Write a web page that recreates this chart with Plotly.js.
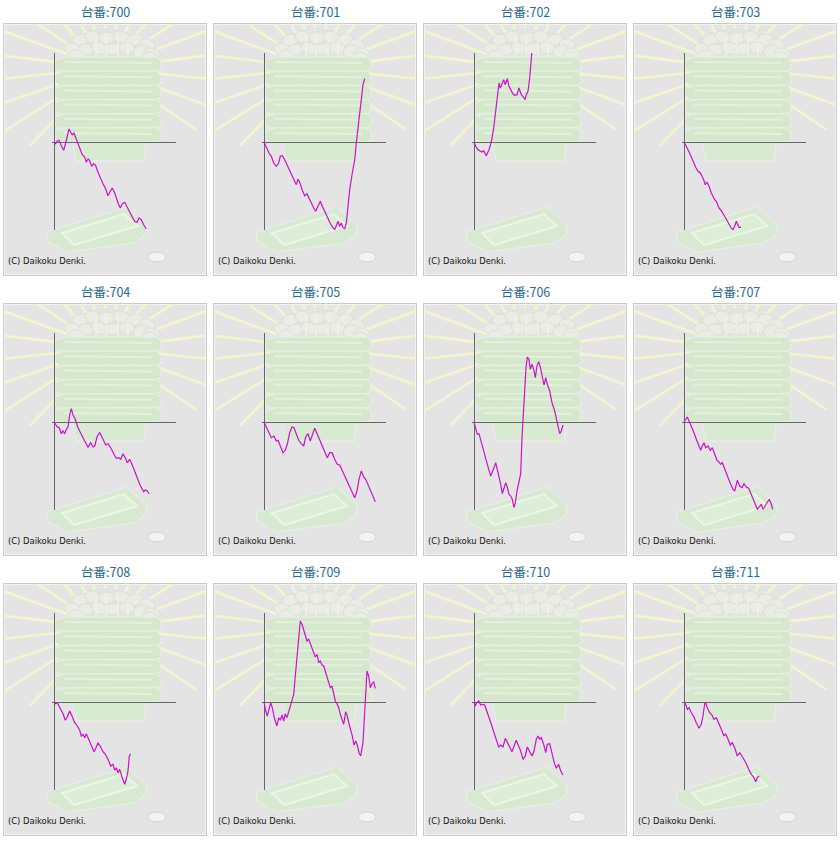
<!DOCTYPE html>
<html><head><meta charset="utf-8">
<script src="https://cdn.plot.ly/plotly-3.0.1.min.js"></script>
<style>html,body{margin:0;padding:0;background:#fff}#chart{width:840px;height:841px}</style>
</head><body><div id="chart"></div>
<script>
// Machine numbers (台番)
const machines = ['700','701','702','703','704','705','706','707','708','709','710','711'];

// x: games (x100), y: ball difference (x100)
const x700 = [0,1.7,3,5,7.3,9.7,11.7,13.3,15,16.7,18.3,20,21.7,23.3,25.7,28.3,30.7,32.3,34,35.7,37.7,39.7,41.7,44,46.3,49,51.7,54,56.3,58.3,60.7,62.3,64.3,66.3,68.3,70.7,73,75.7,78.3,80.7,83,85,87.3,89.7,92.3];
const y700 = [0,-1.7,0.7,1.7,-3.7,-8.3,-1,7.3,13,9.7,7.3,9,4,-1,-6,-12.7,-15,-20.3,-17,-18.7,-24.3,-21.7,-23.7,-30.3,-36,-41.7,-47,-53.7,-49.3,-46,-51,-56,-61.7,-66,-61.7,-60.3,-65,-71,-75,-79.3,-80.3,-76,-77.7,-82.7,-87];

const x701 = [0,1.7,3,5,7.3,9.7,12.3,14.7,16.3,18.3,20.7,23,25.7,28.3,30.7,32.3,34,35.7,38.3,40.7,43,45,47.3,49.7,51.7,54,56.3,58.3,60.7,63,65.7,68.3,70.7,72.3,74,75.7,77.3,79,80.7,82.3,84,85.7,88.3,90.7,92.3,94,95.7,97.3,99,100.7];
const y701 = [0,-4.3,-7.7,-11,-14.3,-21,-24.3,-21,-14.3,-13.7,-17.7,-23.3,-29.3,-34.3,-39.3,-42.7,-37,-40.3,-48.3,-53.7,-51.7,-56,-61.7,-66,-69.3,-64.3,-59.3,-64.3,-70.3,-74.3,-80.3,-85,-87.7,-82.7,-79.3,-84.3,-81,-85.7,-86.7,-81,-64.3,-47.7,-31,-17.7,-1,12.3,29,42.3,57.3,63.3];

const x702 = [0,1.7,4,6.3,8,9.7,11,12.3,15,17.3,19.7,21.7,23.3,25,26.3,28,29.7,31.3,33.3,35,37.3,39,40.7,43,45,47.3,49,51,52.3,54,55.7,56.7,57.7,58.3];
const y702 = [0,-4.3,-7.7,-8.7,-10,-8.7,-12,-13.7,-7.7,0,14,30.7,44,59,54,58,62.3,57.3,63.3,55.7,50.7,48,46.7,47.3,54,47.3,45.7,42.3,47.3,50.7,64,77.3,88.3,95];

const x703 = [0,1.7,4,6.3,9,11.7,14,16.3,18,19.7,21.3,23,25,27.3,30.7,32.3,35,37.3,39.7,42.3,45,47.3,49,50.7,52.3,53.7,55,57];
const y703 = [0,-2.7,-7.7,-12.7,-19.3,-25.3,-29.3,-31,-34.3,-37.7,-42.7,-40,-44.3,-51,-57.7,-59.3,-66,-68.7,-72.7,-77.7,-82.7,-86,-87.7,-84.3,-79.3,-83.3,-85.3,-85.3];

const x704 = [0,1.7,3.3,5.3,7.3,9,10.7,12.3,14,15.7,17.3,19,21.3,24,27.3,30.7,34,36.7,39,40.7,43.3,45.7,49,51.7,54,56.7,60,62.3,64.7,66.7,69,71.3,73.3,75.7,78,80.7,83.3,85.7,88,89.7,91.3,93.3,95];
const y704 = [0,-3,-5,-5.7,-11.7,-9,-11.7,-7.3,-5,7,13.3,7,2.7,-5.7,-13,-19,-25,-20.7,-25,-24,-14,-10.7,-17.3,-23,-21.7,-25.7,-32.3,-36.3,-35.7,-37.3,-31.7,-35.7,-40.7,-37.3,-42.3,-49,-57.3,-62.3,-66.7,-69.7,-68,-69,-71.7];

const x705 = [0,2.3,4.7,7.3,10,12.3,14,16.7,19,21.3,23.3,25.7,28,30,32.3,34.7,37.3,39.7,41.7,44,46.3,48.3,50.7,53.3,55.7,58,60.7,63.3,65.7,68,70.7,73.3,75.7,78,80.7,83.3,85.7,88,90.7,93,95,97.3,99.7,101.7,104,106.7,109,111.3];
const y705 = [0,-5,-11.7,-15.7,-14,-19,-18.3,-25.7,-30.7,-28.3,-22.3,-10.7,-5,-5.7,-12.3,-18.3,-21.7,-24,-15,-11.7,-19,-12.3,-6.3,-12.3,-18.3,-24,-29.7,-35.7,-30.7,-30.7,-37.3,-42.3,-43,-48.3,-54,-59.7,-65,-70.7,-75.7,-69,-57.3,-49,-55,-57.3,-62.3,-69,-74,-79.7];

const x706 = [0,1.7,3.3,5,7.3,10,12.3,14.7,16.7,18.3,20,21.7,23.3,25,26.7,28.3,30,31.7,33.3,35,36.7,38.3,40,41.3,43,45,46.7,48,49.3,50.7,52,53.3,55,56.3,58,59.7,61.3,63,64.7,66.3,68,70,71.7,73.3,75.7,78,80.7,83.3,85.7,87.3,89];
const y706 = [0,-5.7,-12.3,-11.7,-20.7,-29,-39,-47.3,-54,-50.7,-45.7,-40.7,-47.3,-54,-62.3,-71.7,-65.7,-60.7,-65,-72.3,-74,-77.3,-85.7,-80.7,-69,-60.7,-51.7,-15.7,7.7,34.3,54.3,65,62.7,52.7,57.7,52.7,44.3,56,60.3,55,46,37,44.3,37.7,31,19.3,11,-0.7,-11.7,-9,-3];

const x707 = [0,1.3,3.3,4.7,7.3,10,12.3,14.7,16.7,18.3,20,21.7,24,26.3,28.3,30.7,33,34.7,36.7,38.3,40,42.3,44.7,46.7,49,50.7,53.3,55.7,58,60,62.3,64.7,66.7,69,71.3,73.3,75.7,77.3,79,81.3,83.3,85.3,87.3,88.7];
const y707 = [0,1.7,5,1.7,-4,-10.7,-17.3,-23,-28.3,-24,-20.7,-25.7,-24,-28.3,-25.7,-32.3,-38.3,-39.7,-42.3,-40.7,-45.7,-52.3,-57.3,-62.3,-67.3,-69,-58.3,-64,-65.7,-61.7,-65,-66.3,-71.7,-77.3,-82.3,-87.3,-84,-82.3,-87.3,-84,-80.7,-77.3,-82.3,-87.3];

const x708 = [0,1.3,3.3,4.7,6.7,9,11.3,13.3,15.7,18,20.7,23.3,25.7,27.3,29,30.7,32.3,34.7,37.3,40,42.3,44,46.7,49,51.3,54,56.7,59,60.7,62.3,64,65.7,68,70.7,72.3,74,75.3,76.7];
const y708 = [0,-1.7,-0.7,-3,-7.3,-11.7,-18.3,-15,-9,-14,-20.7,-24,-28.3,-34,-32.3,-35.7,-31.7,-37.3,-44,-49.7,-45,-40.7,-45,-49.7,-52.3,-57.3,-64,-62.3,-68.3,-65.7,-70.7,-67.3,-75,-82.3,-77.3,-69,-54,-51.7];

const x709 = [0,0.7,1.7,3.3,4.7,6.7,8.3,10.7,13,14.7,16.3,18,19.7,21.3,23,24.7,26.3,28,29.7,31.3,33,34.7,36.3,38,39.7,41.3,43,44.7,46.3,48,49.7,51.3,53,54.7,56.3,58,59.7,61.3,63,64.7,66.3,68,69.7,71.3,73,74.7,76.3,78,79.7,81.7,83.3,85,86.7,88.3,90,91.7,93.3,95,96.7,98,99,100,101.3,103,104.7,106.3,108,109.7,111.3];
const y709 = [0,-5.7,-9,-14,-7.3,-0.7,-5.7,-17.3,-24,-15.7,-18.3,-13,-19,-11.7,-15.7,-9.7,-4,-0.7,7.7,26,46,64.3,81,77.7,72.7,66,61,62.7,58.3,54.3,49.3,45,47.7,39.3,41,37,36,30.3,25,19.3,14.3,16,8.3,1,-1.7,-5.7,-12.3,-18.3,-22.3,-9.7,-14,-21.7,-27.3,-34,-43,-39,-43,-50.7,-54,-47.3,-40.7,-22.3,1,31,26,14.3,18.3,20.3,13.7];

const x710 = [0,1.3,2.7,4.7,6.7,9,10.7,12.3,14.7,17.3,20,22.3,24.7,26.7,29,31.3,33.3,35.7,38,40,42.3,44.7,46.7,49,51.3,53.3,55.7,58,60,62.3,64,65.7,67.3,69.7,71.7,73.3,75.7,78,80,82.3,84.7,86.7,89];
const y710 = [0,-4,-0.7,1,-3,-2.3,-3,-7.3,-15,-22.3,-30.7,-38.3,-45,-43,-45,-36.3,-40.7,-45.7,-49.7,-44.3,-38.3,-44.3,-49,-57.3,-54,-45,-49,-54,-49,-37.3,-34,-37.3,-35.7,-42.3,-50.7,-42.3,-41.7,-52.3,-59.7,-66.3,-62.3,-69,-73];

const x711 = [0,1.7,3.3,5,7.3,10,12.3,15,17.3,19,20.7,21.7,23.3,25.7,28,30,32.3,34.7,37.3,40,41.7,44,46.3,48.3,50.7,53.3,55.7,58,60,62.3,64.7,67.3,70,71.7,73.3,75];
const y711 = [0,-2.3,-7.3,-5.7,-10.7,-15,-20.7,-26.3,-22.3,-14,-1.7,-0.7,-5.7,-10.7,-13,-17.3,-15.7,-20.7,-27.3,-34,-31.7,-37.3,-43,-40.7,-45.7,-54,-50.7,-54,-57.3,-61.7,-67.3,-72.3,-75.7,-79.7,-75.7,-74];

const xs = [x700,x701,x702,x703,x704,x705,x706,x707,x708,x709,x710,x711];
const ys = [y700,y701,y702,y703,y704,y705,y706,y707,y708,y709,y710,y711];

const titlePrefix = '台番:';
const copyright = '(C) Daikoku Denki.';

// decorative background picture (drawn once, reused in every panel)
function bgSVG(){
  let s = '<svg xmlns="http://www.w3.org/2000/svg" width="204" height="253" viewBox="3 23 204 253">';
  s += '<defs><clipPath id="c"><rect x="4" y="24" width="202" height="251"/></clipPath></defs>';
  s += '<rect x="3.5" y="23.5" width="203" height="252" fill="#e4e4e4" stroke="#cbcbcb"/>';
  s += '<rect x="4.5" y="24.5" width="201" height="250" fill="none" stroke="#f3f3f3"/>';
  s += '<g clip-path="url(#c)" stroke="#f4f4d0" stroke-width="2.6" fill="none">';
  const cx = 105, cy = 68;
  const rays = [[134,40,108],[148,40,118],[161,40,140],[174,40,150],[187,40,150],[200,40,150],[213,40,150],[227,40,150],[241,40,150],[255,40,150],[270,40,150],[285,40,150],[299,40,150],[313,40,150],[327,40,150],[340,40,150],[353,40,150],[6,40,150],[20,40,125],[34,40,110]];
  rays.forEach(r=>{
    const a = r[0]*Math.PI/180;
    s += `<line x1="${(cx+r[1]*Math.cos(a)).toFixed(1)}" y1="${(cy+r[1]*Math.sin(a)).toFixed(1)}" x2="${(cx+r[2]*Math.cos(a)).toFixed(1)}" y2="${(cy+r[2]*Math.sin(a)).toFixed(1)}"/>`;
  });
  s += '</g>';
  // balls
  const balls = [[80,40,-20],[93,37,10],[107,38,-5],[121,37,15],[135,40,-10],[147,45,20],[72,49,15],[85,50,-10],[99,48,20],[113,49,-15],[127,48,10],[141,51,-20],[152,54,10],[76,56,0],[150,58,0]];
  balls.forEach(b=>{ s += `<ellipse cx="${b[0]}" cy="${b[1]}" rx="8" ry="6" transform="rotate(${b[2]} ${b[0]} ${b[1]})" fill="#ecece7" stroke="#dcdcd4" stroke-width="0.8"/>`; });
  [[96,36,62],[106,34,60],[118,36,62],[128,40,64]].forEach(l=>{ s += `<line x1="${l[0]}" y1="${l[1]}" x2="${l[0]}" y2="${l[2]}" stroke="#f5f5da" stroke-width="1.2"/>`; });
  // lower box of the stack
  s += '<polygon points="72,138 147,138 144,161 76,161" fill="#d8ead1" stroke="#f2f6f0" stroke-dasharray="2 1"/>';
  // stack of trays
  s += '<rect x="60" y="58" width="98" height="84" fill="#d6e8cf"/>';
  for(let k=0;k<6;k++){
    const y = 57 + k*14.2;
    s += `<polygon points="55,${y+3} 66,${y} 157,${y} 161,${y+4} 161,${y+12} 156,${y+14} 60,${y+14} 55,${y+11}" fill="#d5e8cd" stroke="#eef5ea" stroke-width="1" stroke-dasharray="2 1"/>`;
    s += `<line x1="64" y1="${y+5}" x2="152" y2="${y+6}" stroke="#e3f0dd" stroke-width="2"/>`;
  }
  // bottom tray
  s += '<polygon points="47,232 127,207 147,226 146,235 133,243 67,252 47,241" fill="#d7e9d0" stroke="#f2f6f0" stroke-dasharray="2 1"/>';
  s += '<polygon points="62,233 124,214 137,226 74,245" fill="#ddedd7" stroke="#ecf5e8" stroke-width="2"/>';
  // coin
  s += '<ellipse cx="157" cy="257" rx="9" ry="5" fill="#f3f3f3" stroke="#d3d3d3"/>';
  s += '</svg>';
  return 'data:image/svg+xml;charset=utf-8,' + encodeURIComponent(s);
}

const W = 840, H = 841, PW = 210, PH = 280;
const bg = bgSVG();
const traces = [];
const layout = {
  width: W, height: H,
  margin: {l:0, r:0, t:0, b:0},
  paper_bgcolor: '#ffffff',
  plot_bgcolor: 'rgba(0,0,0,0)',
  showlegend: false,
  annotations: [],
  images: []
};

machines.forEach((m, i) => {
  const c = i % 4, r = Math.floor(i / 4);
  const ox = c * PW, oy = r * PH;
  const n = i === 0 ? '' : String(i + 1);
  const common = {showgrid:false, showticklabels:false, ticks:'', showline:false,
                  zeroline:true, zerolinecolor:'#666666', zerolinewidth:1, fixedrange:true};
  layout['xaxis' + n] = Object.assign({}, common, {
    domain: [(ox + 52) / W, (ox + 176) / W], range: [-2, 122], anchor: 'y' + n
  });
  layout['yaxis' + n] = Object.assign({}, common, {
    domain: [1 - (oy + 230) / H, 1 - (oy + 53) / H], range: [-88, 89], anchor: 'x' + n
  });
  traces.push({
    x: xs[i], y: ys[i], xaxis: 'x' + n, yaxis: 'y' + n,
    type: 'scatter', mode: 'lines',
    line: {color: '#cc11cc', width: 1.2},
    hoverinfo: 'skip'
  });
  layout.images.push({
    source: bg, xref: 'paper', yref: 'paper',
    x: (ox + 3) / W, y: 1 - (oy + 23) / H,
    sizex: 204 / W, sizey: 253 / H,
    xanchor: 'left', yanchor: 'top', sizing: 'stretch', layer: 'below'
  });
  layout.annotations.push({
    text: titlePrefix + m, xref: 'paper', yref: 'paper',
    x: (ox + 105) / W, y: 1 - (oy + 11) / H,
    xanchor: 'center', yanchor: 'middle', showarrow: false,
    font: {family: '"Noto Sans CJK JP", "Noto Sans", sans-serif', size: 12.5, color: '#2b6a8f'}
  });
  layout.annotations.push({
    text: copyright, xref: 'paper', yref: 'paper',
    x: (ox + 6) / W, y: 1 - (oy + 261) / H,
    xanchor: 'left', yanchor: 'middle', showarrow: false,
    font: {family: '"DejaVu Sans", "Liberation Sans", sans-serif', size: 8.4, color: '#111111'}
  });
});

Plotly.newPlot('chart', traces, layout, {staticPlot: true, displayModeBar: false});
</script>
</body></html>
